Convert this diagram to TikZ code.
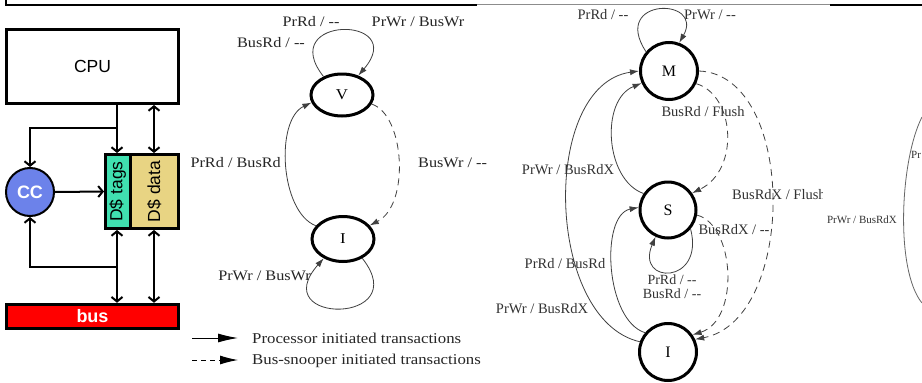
\documentclass[tikz,border=0pt]{standalone}
\usepackage{fontspec}
\usepackage{graphicx}
\setmainfont{Liberation Serif}
\setsansfont{Liberation Sans}
\newfontfamily\midfont[FakeStretch=1.12]{Liberation Serif}
\newfontfamily\msifont{Liberation Serif}
\usetikzlibrary{arrows.meta,shapes.geometric}
\definecolor{tagcol}{HTML}{40E0B0}
\definecolor{datacol}{HTML}{E8D483}
\definecolor{cccol}{HTML}{6C82EA}
\definecolor{buscol}{HTML}{FF0000}
\tikzset{
  blk/.style={draw,line width=3pt,inner sep=0pt,font=\sffamily\fontsize{17.5}{20}\selectfont},
  wire/.style={line width=2pt,-{Straight Barb[length=4.5pt,width=11pt]}},
  bwire/.style={line width=2pt,{Straight Barb[length=4.5pt,width=11pt]}-{Straight Barb[length=4.5pt,width=11pt]}},
  vstate/.style={ellipse,draw,line width=3pt,minimum width=62pt,minimum height=42pt,inner sep=0pt,font=\midfont\fontsize{15}{17}\selectfont},
  mstate/.style={circle,draw,line width=3pt,minimum size=57pt,inner sep=0pt,font=\msifont\fontsize{16}{18}\selectfont},
  tr/.style={draw=black!75,line width=0.8pt,-{Latex[length=9pt,width=6pt]}},
  sn/.style={tr,dash pattern=on 7pt off 5pt},
  vlab/.style={font=\midfont\fontsize{14.5}{16}\selectfont,text=black!85,inner sep=0pt},
  mlab/.style={font=\msifont\fontsize{14.5}{16}\selectfont,text=black!80,inner sep=0pt},
}
\begin{document}
\begin{tikzpicture}[x=1pt,y=-1pt]
  \useasboundingbox (0,0) rectangle (922,383);
  \clip (0,0) rectangle (922,383);
  \fill[white] (0,0) rectangle (922,383);
  % frame of the slide above
  \draw[line width=1.2pt] (6,0) -- (6,5) -- (477,5);
  \draw[line width=1.2pt,black!45] (477,4.5) -- (830,4.5);
  \draw[line width=1.2pt] (830,5) -- (922,5);

  % cache controller
  \node[blk,minimum width=172pt,minimum height=74pt] (cpu) at (92.5,66.5) {CPU};
  \node[blk,fill=tagcol,minimum width=24.5pt,minimum height=74pt] (tags) at (117.75,191.5) {\rotatebox{90}{D\$ tags}};
  \node[blk,fill=datacol,minimum width=48.5pt,minimum height=74pt] (data) at (154.25,191.5) {\rotatebox{90}{D\$ data}};
  \node[blk,circle,line width=2pt,fill=cccol,minimum size=48pt,text=white,font=\sffamily\bfseries\fontsize{18}{20}\selectfont] (cc) at (30,192) {CC};
  \node[blk,fill=buscol,minimum width=172pt,minimum height=24.5pt,text=white,font=\sffamily\bfseries\fontsize{18}{20}\selectfont] (bus) at (92.5,316.5) {bus};
  \coordinate (tj) at (117,128);
  \coordinate (bj) at (117,267);
  \draw[wire] (cpu.south -| tj) -- (tj |- tags.north);
  \draw[wire] (tj) -| (cc.north);
  \draw[bwire] (cpu.south -| 154,0) -- (data.north -| 154,0);
  \draw[wire] (cc.east) -- (tags.west);
  \draw[bwire] (tj |- tags.south) -- (tj |- bus.north);
  \draw[wire] (bj) -| (cc.south);
  \draw[bwire] (data.south -| 154,0) -- (bus.north -| 154,0);

  % VI protocol
  \node[vstate] (V) at (342,95) {V};
  \node[vstate,minimum height=45pt] (I) at (343,239) {I};
  \draw[tr] (V.135) .. controls (275,15) and (410,15) .. (V.50);
  \draw[tr] (I.154) .. controls (280,212) and (275,120) .. (V.194);
  \draw[sn] (V.-17) .. controls (405,115) and (410,205) .. (I.27);
  \draw[tr] (I.-45) .. controls (415,325) and (265,325) .. (I.-135);
  \node[vlab] (vrd) at (311,22) {PrRd / --};
  \node[vlab] (vwr) at (418,22) {PrWr / BusWr};
  \node[vlab] (vbrd) at (271,43) {BusRd / --};
  \node[vlab,anchor=east] (ird) at (281,163) {PrRd / BusRd};
  \begin{scope}
    \clip (400,140) rectangle (488,190);
    \node[vlab,anchor=west] (vbwr) at (418,163) {BusWr / --};
  \end{scope}
  \node[vlab,anchor=east] (iwr) at (311,276) {PrWr / BusWr};

  % legend
  \coordinate (pa) at (192,338);
  \coordinate (pb) at (238,338);
  \coordinate (sa) at (192,360);
  \coordinate (sb) at (238,360);
  \draw[tr,draw=black,line width=1pt,-{Latex[length=20pt,width=9pt]}] (pa) -- (pb);
  \draw[sn,draw=black,line width=1pt,dash pattern=on 5pt off 4pt,-{Latex[length=18pt,width=9pt]}] (sa) -- (sb);
  \node[vlab,font=\midfont\fontsize{15}{17}\selectfont,anchor=west] (ptxt) at (252,338) {Processor initiated transactions};
  \node[vlab,font=\midfont\fontsize{15}{17}\selectfont,anchor=west] (stxt) at (252,361) {Bus-snooper initiated transactions};

  % MSI protocol
  \node[mstate] (M) at (669,71) {M};
  \node[mstate,minimum size=56pt] (S) at (668,210) {S};
  \node[mstate] (Ib) at (668,352) {I};
  \draw[tr] (M.140) .. controls (610,-3) and (705,-3) .. (M.70);
  \draw[tr] (S.146) .. controls (605,180) and (600,100) .. (M.204);
  \draw[tr] (Ib.160) .. controls (545,320) and (540,85) .. (M.180);
  \draw[tr] (Ib.140) .. controls (605,320) and (600,215) .. (S.175);
  \draw[tr] (S.-40) .. controls (705,285) and (635,285) .. (S.-115);
  \draw[sn] (M.-25) .. controls (735,95) and (740,170) .. (S.35);
  \draw[sn] (M.0) .. controls (797,75) and (797,320) .. (Ib.25);
  \draw[sn] (S.-10) .. controls (735,225) and (740,320) .. (Ib.35);
  \node[mlab] (mrd) at (603,15) {PrRd / --};
  \node[mlab] (mwr) at (710,15) {PrWr / --};
  \node[mlab] (smwr) at (568,170) {PrWr / BusRdX};
  \node[mlab] (imwr) at (542,309) {PrWr / BusRdX};
  \node[mlab] (isrd) at (565,264) {PrRd / BusRd};
  \node[mlab,font=\msifont\fontsize{14}{15}\selectfont] (srd) at (672,280) {PrRd / --};
  \node[mlab,font=\msifont\fontsize{14}{15}\selectfont] (sbrd) at (672,294) {BusRd / --};
  \node[mlab] (msfl) at (703,112) {BusRd / Flush};
  \node[mlab] (sibx) at (734,230) {BusRdX / --};
  \begin{scope}
    \clip (725,180) rectangle (822,210);
    \node[mlab,anchor=west] (mifl) at (732,195) {BusRdX / Flush};
  \end{scope}

  % next panel
  \node[mlab,font=\msifont\fontsize{11}{13}\selectfont] (nwr) at (862,220) {PrWr / BusRdX};
  \node[mlab,font=\msifont\fontsize{11}{13}\selectfont,anchor=west] (npr) at (911,155) {Pr};
  \draw[black!60,line width=0.8pt] (922,117) .. controls (900,160) and (895,270) .. (922,303);
\end{tikzpicture}
\end{document}
